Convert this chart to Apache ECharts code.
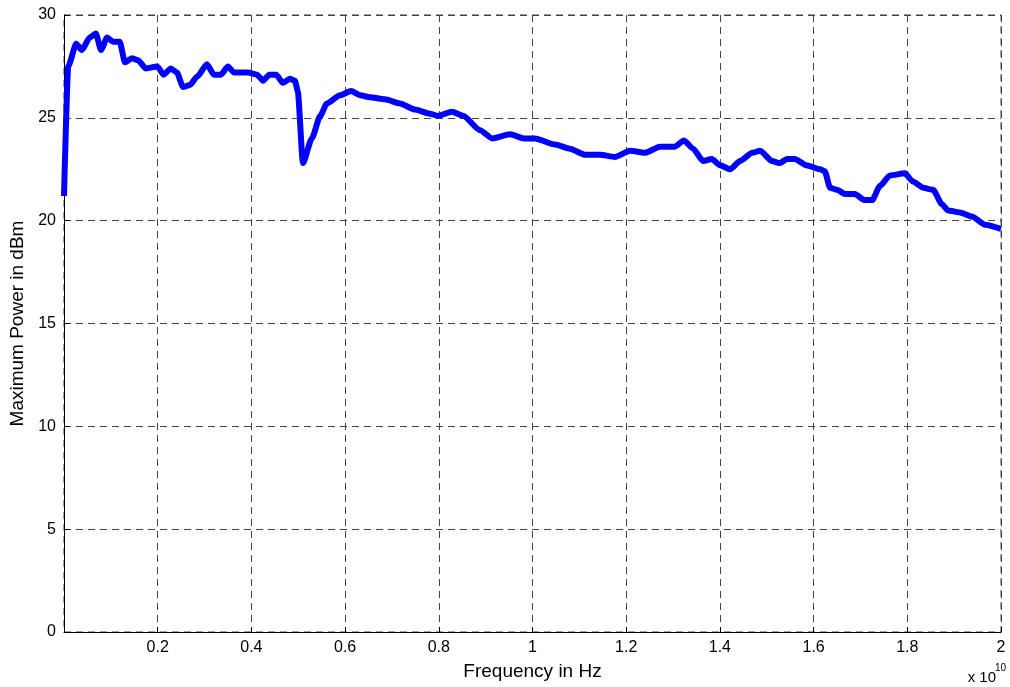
<!DOCTYPE html><html><head><meta charset="utf-8"><script src="https://cdn.jsdelivr.net/npm/echarts@6/dist/echarts.min.js"></script></head><body style="margin:0;background:#fff"><div id="c" style="width:1010px;height:687px"></div><script>
const freq=[0,0.009,0.026,0.038,0.055,0.068,0.079,0.092,0.105,0.119,0.130,0.145,0.158,0.175,0.199,0.213,0.228,0.241,0.254,0.269,0.284,0.305,0.320,0.335,0.350,0.363,0.393,0.412,0.425,0.438,0.453,0.467,0.482,0.493,0.499,0.510,0.529,0.547,0.561,0.589,0.613,0.632,0.653,0.685,0.717,0.749,0.781,0.798,0.828,0.852,0.888,0.914,0.952,0.982,1.005,1.048,1.080,1.112,1.144,1.176,1.208,1.240,1.272,1.304,1.323,1.343,1.364,1.383,1.400,1.422,1.443,1.469,1.486,1.511,1.528,1.543,1.560,1.584,1.614,1.624,1.635,1.650,1.667,1.688,1.709,1.725,1.742,1.763,1.795,1.812,1.834,1.855,1.874,1.887,1.912,1.938,1.966,2.0];
const power=[21.2,27.5,28.6,28.3,28.9,29.1,28.3,28.9,28.7,28.7,27.7,27.9,27.8,27.4,27.5,27.1,27.4,27.2,26.5,26.6,27.0,27.6,27.1,27.1,27.5,27.2,27.2,27.1,26.8,27.1,27.1,26.7,26.9,26.8,26.3,22.8,24.0,25.1,25.7,26.1,26.3,26.1,26.0,25.9,25.7,25.4,25.2,25.1,25.3,25.1,24.4,24.0,24.2,24.0,24.0,23.7,23.5,23.2,23.2,23.1,23.4,23.3,23.6,23.6,23.9,23.5,22.9,23.0,22.7,22.5,22.9,23.3,23.4,22.9,22.8,23.0,23.0,22.7,22.5,22.4,21.6,21.5,21.3,21.3,21.0,21.0,21.7,22.2,22.3,21.9,21.6,21.5,20.8,20.5,20.4,20.2,19.8,19.6];
const ch=echarts.init(document.getElementById('c'));
const font='Arial, Liberation Sans, sans-serif';
const split={show:true,lineStyle:{color:'#444',type:[7,5],width:1}};
ch.setOption({animation:false,
grid:{left:64,right:9,top:15,bottom:55},
graphic:[{type:'text',right:14,bottom:2,style:{text:'x 10',font:'15px '+font,fill:'#000'}},
{type:'text',right:4,bottom:14,style:{text:'10',font:'10px '+font,fill:'#000'}},
{type:'rect',shape:{x:64,y:15,width:937,height:617},style:{fill:'none',stroke:'#444',lineWidth:1,lineDash:[7,5]},z:0}],
xAxis:{type:'value',min:0,max:2,interval:0.2,name:'Frequency in Hz',nameLocation:'middle',nameGap:30,
nameTextStyle:{fontFamily:font,fontSize:19,color:'#000'},
axisLine:{lineStyle:{color:'#000'}},axisTick:{inside:true,length:5,lineStyle:{color:'#000'}},
axisLabel:{fontFamily:font,fontSize:16,color:'#000',formatter:v=>v===0?'':String(+v.toFixed(1))},splitLine:split},
yAxis:{type:'value',min:0,max:30,interval:5,name:'Maximum Power in dBm',nameLocation:'middle',nameGap:36,
nameTextStyle:{fontFamily:font,fontSize:19,color:'#000'},
axisLine:{show:true,lineStyle:{color:'#000'}},axisTick:{show:true,inside:true,length:5,lineStyle:{color:'#000'}},
axisLabel:{fontFamily:font,fontSize:16,color:'#000'},splitLine:split},
series:[{type:'line',data:freq.map((f,i)=>[f,power[i]]),showSymbol:false,smooth:0.2,smoothMonotone:'x',lineStyle:{color:'#0000ff',width:6},clip:false}]});
</script></body></html>
